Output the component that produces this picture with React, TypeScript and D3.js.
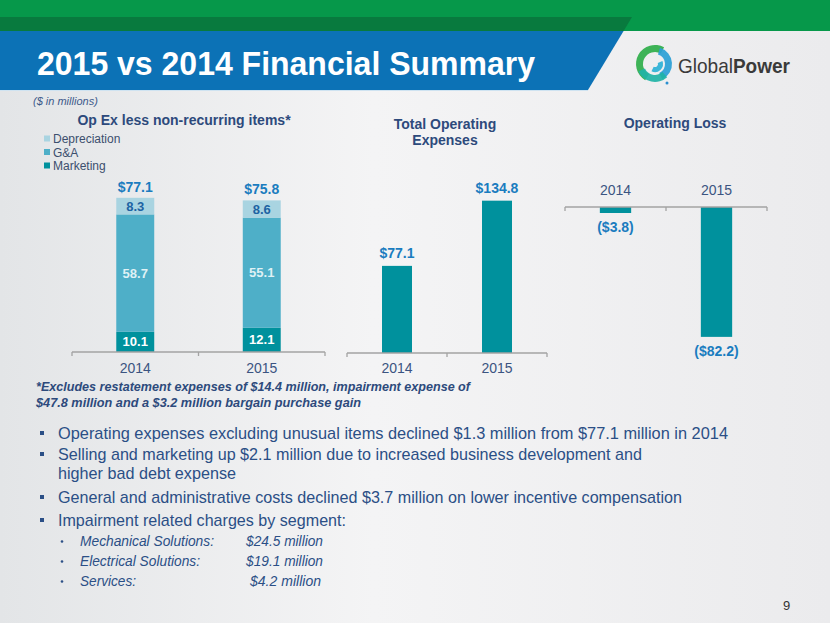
import React from "react";
import * as d3 from "d3";

const years = ["2014", "2015"];
const marketing = [10.1, 12.1];
const gaValues = [58.7, 55.1];
const depreciation = [8.3, 8.6];
const opexTotals = [77.1, 75.8];
const totalOpEx = [77.1, 134.8];
const operatingLoss = [-3.8, -82.2];
const legendItems = ["Depreciation", "G&A", "Marketing"];

const bullets = [
  "Operating expenses excluding unusual items declined $1.3 million from $77.1 million in 2014",
  "Selling and marketing up $2.1 million due to increased business development and",
  "higher bad debt expense",
  "General and administrative costs declined $3.7 million on lower incentive compensation",
  "Impairment related charges by segment:",
];
const segments = ["Mechanical Solutions:", "Electrical Solutions:", "Services:"];
const segmentCharges = ["$24.5 million", "$19.1 million", "$4.2 million"];

const TEAL = "#00919d";
const GA = "#4eafc8";
const DEP = "#a9d4e1";
const NAVY = "#2d4a7c";
const VAL = "#1a7cbf";
const YEARC = "#3b5481";
const AXIS = "#a3a3a3";
const SANS = "'Liberation Sans', Arial, sans-serif";

const fmtMoney = (v: number) => (v < 0 ? `($${Math.abs(v).toFixed(1)})` : `$${v.toFixed(1)}`);

function Logo() {
  const cx = 655, cy = 64;
  const arcs = [
    { start: -2.6, end: 0.5, color: "#2fae4a", inner: 12, outer: 19 },
    { start: 0.3, end: 2.7, color: "#2a9fd6", inner: 10, outer: 17 },
    { start: 2.4, end: 4.3, color: "#1fb3a6", inner: 11, outer: 18 },
  ];
  const arc = d3.arc();
  return (
    <g>
      {arcs.map((a, i) => (
        <path
          key={i}
          transform={`translate(${cx},${cy})`}
          d={arc({ innerRadius: a.inner, outerRadius: a.outer, startAngle: a.start, endAngle: a.end }) || ""}
          fill={a.color}
          opacity={0.92}
        />
      ))}
      <path transform={`translate(${cx},${cy})`} d={arc({ innerRadius: 3, outerRadius: 8, startAngle: 1.2, endAngle: 3.6 }) || ""} fill="#3cb6d8" />
      <circle cx={cx + 12} cy={cy + 19} r={1.5} fill="#2a8fd0" />
      <text x={678} y={73} fontFamily={SANS} fontSize={21} fill="#3a3a3a" textLength={112} lengthAdjust="spacingAndGlyphs">
        <tspan>Global</tspan>
        <tspan fontWeight="bold">Power</tspan>
      </text>
    </g>
  );
}

export default function App() {
  // Left stacked chart
  const xL = d3.scaleBand().domain(years).range([72, 325]).paddingInner(0.7).paddingOuter(0.35);
  const yL = d3.scaleLinear().domain([0, 80]).range([352, 192]);
  const stackData = years.map((y, i) => ({ year: y, Marketing: marketing[i], GA: gaValues[i], Depreciation: depreciation[i] }));
  const stack = d3.stack<any>().keys(["Marketing", "GA", "Depreciation"]);
  const series = stack(stackData);
  const segColors: Record<string, string> = { Marketing: TEAL, GA: GA, Depreciation: DEP };
  const segText: Record<string, string> = { Marketing: "#ffffff", GA: "#dff1f5", Depreciation: "#1d63a3" };

  // Middle chart
  const xM = d3.scaleBand().domain(years).range([347, 547]).paddingInner(0.7).paddingOuter(0.35);
  const yM = d3.scaleLinear().domain([0, 140]).range([353, 353 - 158.2]);

  // Right chart
  const xR = d3.scaleBand().domain(years).range([565, 767]).paddingInner(0.69).paddingOuter(0.345);
  const yR = d3.scaleLinear().domain([-90, 0]).range([207 + 142.2, 207]);

  const axis = (x0: number, x1: number, y: number, ticks: number[]) => (
    <g>
      <line x1={x0} x2={x1} y1={y} y2={y} stroke={AXIS} strokeWidth={1.3} />
      {ticks.map((t, i) => (
        <line key={i} x1={t} x2={t} y1={y} y2={y + 4} stroke={AXIS} strokeWidth={1.3} />
      ))}
    </g>
  );

  const bulletLens = [670, 584, 178, 624, 288];
  const bulletY = [439, 460, 479, 503, 526];
  const segLens = [134, 120, 56];
  const chargeX = [246, 246, 250];
  const chargeLens = [77, 77, 71];
  const segY = [546, 566, 586];

  return (
    <svg width={830} height={623} style={{ position: "absolute", left: 0, top: 0 }}>
      <defs>
        <linearGradient id="bg" x1="0" x2="1" y1="0" y2="0">
          <stop offset="0" stopColor="#e3e5e7" />
          <stop offset="0.45" stopColor="#f4f4f5" />
          <stop offset="1" stopColor="#ebebed" />
        </linearGradient>
      </defs>
      <rect x={0} y={0} width={830} height={623} fill="url(#bg)" />

      {/* Header */}
      <rect x={0} y={0} width={830} height={31} fill="#06984a" />
      <polygon points="0,17 632,17 623.6,31 0,31" fill="#087a3e" />
      <polygon points="0,31 623.6,31 588,90 0,90" fill="#0c72b6" />
      <line x1={0} x2={588} y1={90.5} y2={90.5} stroke="#cfe3f1" strokeWidth={1} />
      <text x={37} y={75} fontFamily={SANS} fontWeight="bold" fontSize={34} fill="#ffffff" textLength={498} lengthAdjust="spacingAndGlyphs">
        2015 vs 2014 Financial Summary
      </text>
      <Logo />

      <text x={33} y={105} fontFamily={SANS} fontStyle="italic" fontSize={11} fill="#3d5a8a">
        ($ in millions)
      </text>

      {/* Left chart */}
      <text x={184} y={125} textAnchor="middle" fontFamily={SANS} fontWeight="bold" fontSize={14} fill={NAVY}>
        Op Ex less non-recurring items*
      </text>
      {legendItems.map((name, i) => {
        const key = name === "G&A" ? "GA" : name;
        return (
          <g key={name}>
            <rect x={44} y={135.5 + i * 13.5} width={6} height={6} fill={segColors[key]} />
            <text x={53} y={143 + i * 13.5} fontFamily={SANS} fontSize={12} fill="#3c4f6e">
              {name}
            </text>
          </g>
        );
      })}
      {series.map((s) => (
        <g key={s.key}>
          {s.map((d, i) => {
            const x = xL(years[i])!;
            const y0 = yL(d[0]);
            const y1 = yL(d[1]);
            return (
              <g key={i}>
                <rect x={x} y={y1} width={xL.bandwidth()} height={y0 - y1} fill={segColors[s.key]} />
                <text
                  x={x + xL.bandwidth() / 2}
                  y={(y0 + y1) / 2 + 4.5}
                  textAnchor="middle"
                  fontFamily={SANS}
                  fontWeight="bold"
                  fontSize={13}
                  fill={segText[s.key]}
                >
                  {(d[1] - d[0]).toFixed(1)}
                </text>
              </g>
            );
          })}
        </g>
      ))}
      {years.map((yr, i) => (
        <text key={yr} x={xL(yr)! + xL.bandwidth() / 2} y={yL(opexTotals[i]) - 6} textAnchor="middle" fontFamily={SANS} fontWeight="bold" fontSize={14} fill={VAL}>
          {fmtMoney(opexTotals[i])}
        </text>
      ))}
      {axis(72, 325, 352, [72, 198.5, 325])}
      {years.map((yr) => (
        <text key={yr} x={xL(yr)! + xL.bandwidth() / 2} y={373} textAnchor="middle" fontFamily={SANS} fontSize={14} fill={YEARC}>
          {yr}
        </text>
      ))}

      {/* Middle chart */}
      <text textAnchor="middle" fontFamily={SANS} fontWeight="bold" fontSize={14} fill={NAVY}>
        <tspan x={445} y={129}>Total Operating</tspan>
        <tspan x={445} y={145}>Expenses</tspan>
      </text>
      {years.map((yr, i) => (
        <g key={yr}>
          <rect x={xM(yr)!} y={yM(totalOpEx[i])} width={xM.bandwidth()} height={yM(0) - yM(totalOpEx[i])} fill={TEAL} />
          <text x={xM(yr)! + xM.bandwidth() / 2} y={yM(totalOpEx[i]) - 8} textAnchor="middle" fontFamily={SANS} fontWeight="bold" fontSize={14} fill={VAL}>
            {fmtMoney(totalOpEx[i])}
          </text>
          <text x={xM(yr)! + xM.bandwidth() / 2} y={373} textAnchor="middle" fontFamily={SANS} fontSize={14} fill={YEARC}>
            {yr}
          </text>
        </g>
      ))}
      {axis(347, 547, 353, [347, 447, 547])}

      {/* Right chart */}
      <text x={675} y={128} textAnchor="middle" fontFamily={SANS} fontWeight="bold" fontSize={14} fill={NAVY}>
        Operating Loss
      </text>
      {years.map((yr, i) => (
        <g key={yr}>
          <rect x={xR(yr)!} y={yR(0)} width={xR.bandwidth()} height={yR(operatingLoss[i]) - yR(0)} fill={TEAL} />
          <text x={xR(yr)! + xR.bandwidth() / 2} y={yR(operatingLoss[i]) + 19} textAnchor="middle" fontFamily={SANS} fontWeight="bold" fontSize={14} fill={VAL}>
            {fmtMoney(operatingLoss[i])}
          </text>
          <text x={xR(yr)! + xR.bandwidth() / 2} y={195} textAnchor="middle" fontFamily={SANS} fontSize={14} fill={YEARC}>
            {yr}
          </text>
        </g>
      ))}
      {axis(565, 767, 207, [565, 666, 767])}

      {/* Footnote */}
      <text x={36} y={391} fontFamily={SANS} fontStyle="italic" fontWeight="bold" fontSize={12.5} fill={NAVY} textLength={434} lengthAdjust="spacingAndGlyphs">
        *Excludes restatement expenses of $14.4 million, impairment expense of
      </text>
      <text x={36} y={407} fontFamily={SANS} fontStyle="italic" fontWeight="bold" fontSize={12.5} fill={NAVY} textLength={325} lengthAdjust="spacingAndGlyphs">
        $47.8 million and a $3.2 million bargain purchase gain
      </text>

      {/* Bullets */}
      {bullets.map((b, i) => (
        <g key={i}>
          {i !== 2 && <rect x={40} y={bulletY[i] - 8} width={4} height={4} fill="#2b4f86" />}
          <text x={58} y={bulletY[i]} fontFamily={SANS} fontSize={17} fill="#2b4f86" textLength={bulletLens[i]} lengthAdjust="spacingAndGlyphs">
            {b}
          </text>
        </g>
      ))}
      {segments.map((s, i) => (
        <g key={s}>
          <circle cx={62} cy={segY[i] - 4.5} r={1.3} fill="#2b4f86" />
          <text x={80} y={segY[i]} fontFamily={SANS} fontStyle="italic" fontSize={14} fill="#2b4f86" textLength={segLens[i]} lengthAdjust="spacingAndGlyphs">
            {s}
          </text>
          <text x={chargeX[i]} y={segY[i]} fontFamily={SANS} fontStyle="italic" fontSize={14} fill="#2b4f86" textLength={chargeLens[i]} lengthAdjust="spacingAndGlyphs">
            {segmentCharges[i]}
          </text>
        </g>
      ))}

      <text x={783} y={610} fontFamily={SANS} fontSize={13} fill="#333333">
        9
      </text>
    </svg>
  );
}
